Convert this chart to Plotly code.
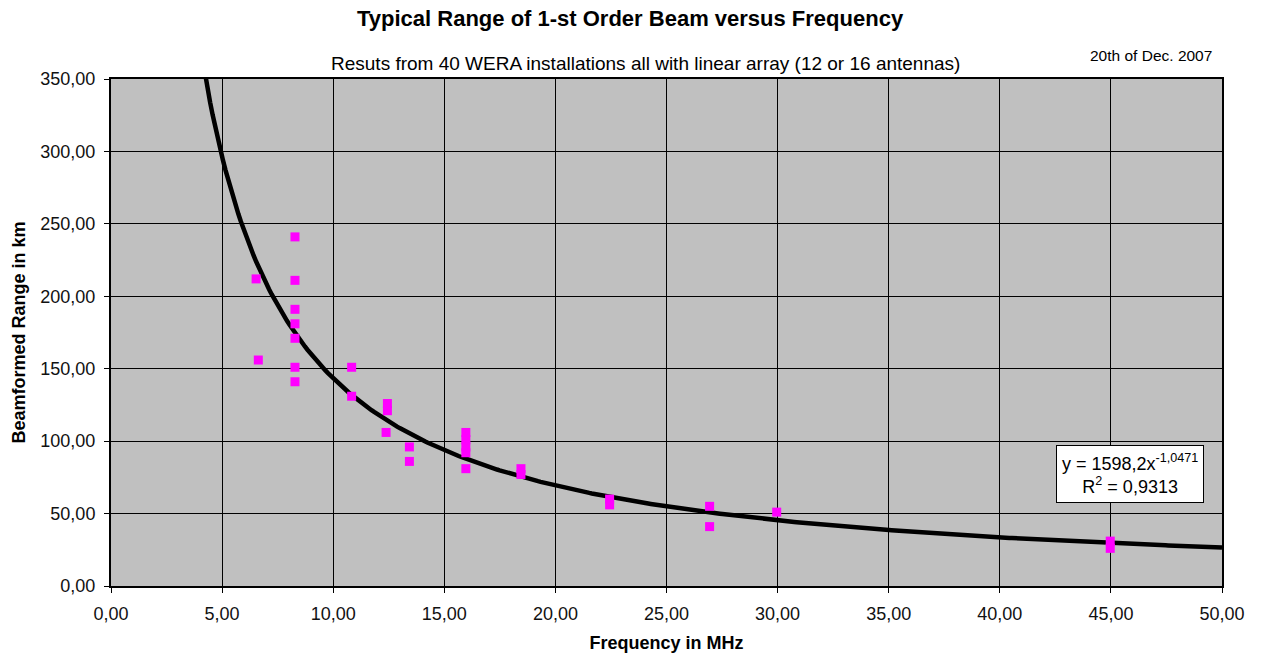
import numpy as np
import plotly.graph_objects as go

# Measured data (frequency in MHz, beamformed range in km)
freq = [8.28, 8.28, 8.28, 8.28, 8.28, 8.28, 8.28,
        6.53, 6.63,
        10.83, 10.83,
        12.44, 12.44, 12.38,
        13.43, 13.43,
        15.97, 15.97, 15.97, 15.97, 15.97,
        18.45, 18.45,
        22.44, 22.44,
        26.94, 26.94,
        29.96,
        44.97, 44.97]
range_km = [241, 211, 191, 181, 171, 151, 141,
            212, 156,
            151, 131,
            126, 121, 106,
            96, 86,
            106, 101, 96, 92, 81,
            81, 77,
            60, 56,
            55, 41,
            51,
            31, 26]

# Power-law trend line coefficients (as printed on the chart)
fit_a = 1598.2
fit_b = -1.0471
fit_x = np.linspace(4.0, 50.0, 400)
fit_y = fit_a * fit_x ** fit_b

x_ticks = [0, 5, 10, 15, 20, 25, 30, 35, 40, 45, 50]
y_ticks = [0, 50, 100, 150, 200, 250, 300, 350]

FONT = "Arial, Liberation Sans, sans-serif"

fig = go.Figure()
fig.add_trace(go.Scatter(x=fit_x, y=fit_y, mode="lines",
                         line=dict(color="black", width=4.5),
                         hoverinfo="skip", showlegend=False))
fig.add_trace(go.Scatter(x=freq, y=range_km, mode="markers",
                         marker=dict(symbol="square", size=9, color="#FF00FF",
                                     line=dict(width=0)),
                         showlegend=False))

axis_common = dict(showgrid=True, gridcolor="black", gridwidth=1,
                   showline=True, linecolor="black", linewidth=2, mirror=True,
                   ticks="outside", ticklen=5, tickcolor="black", tickwidth=1,
                   tickformat=".2f", zeroline=False, automargin=False,
                   tickfont=dict(family=FONT, size=18, color="#111111"))

fig.update_xaxes(range=[0, 50], tickvals=x_ticks, ticklabelstandoff=5,
                 title=dict(text="<b>Frequency in MHz</b>", standoff=14,
                            font=dict(family=FONT, size=18, color="black")),
                 **axis_common)
fig.update_yaxes(range=[0, 350], tickvals=y_ticks, ticklabelstandoff=5,
                 title=dict(text="<b>Beamformed Range in km</b>", standoff=10,
                            font=dict(family=FONT, size=18, color="black")),
                 **axis_common)

fig.update_layout(
    width=1262, height=659,
    margin=dict(l=111, r=40, t=79, b=73),
    paper_bgcolor="white", plot_bgcolor="#C0C0C0",
    separators=",.",
    font=dict(family=FONT, color="black"),
    annotations=[
        dict(text="<b>Typical Range of 1-st Order Beam versus Frequency</b>",
             xref="paper", yref="paper", x=0.468, y=1, yshift=61,
             xanchor="center", yanchor="middle", showarrow=False,
             font=dict(family=FONT, size=22, color="black")),
        dict(text="Resuts from 40 WERA installations all with linear array (12 or 16 antennas)",
             xref="paper", yref="paper", x=0.481, y=1, yshift=16,
             xanchor="center", yanchor="middle", showarrow=False,
             font=dict(family=FONT, size=19, color="black")),
        dict(text="20th of Dec. 2007",
             xref="paper", yref="paper", x=0.936, y=1, yshift=24,
             xanchor="center", yanchor="middle", showarrow=False,
             font=dict(family=FONT, size=15.5, color="black")),
        dict(text="y = 1598,2x<sup>-1,0471</sup><br>R<sup>2</sup> = 0,9313",
             xref="paper", yref="paper", x=0.9838, y=0.22,
             xanchor="right", yanchor="middle", showarrow=False,
             align="center", bgcolor="white", bordercolor="black",
             borderwidth=1, borderpad=5,
             font=dict(family=FONT, size=18, color="black")),
    ],
)

fig.write_html("out.html")
